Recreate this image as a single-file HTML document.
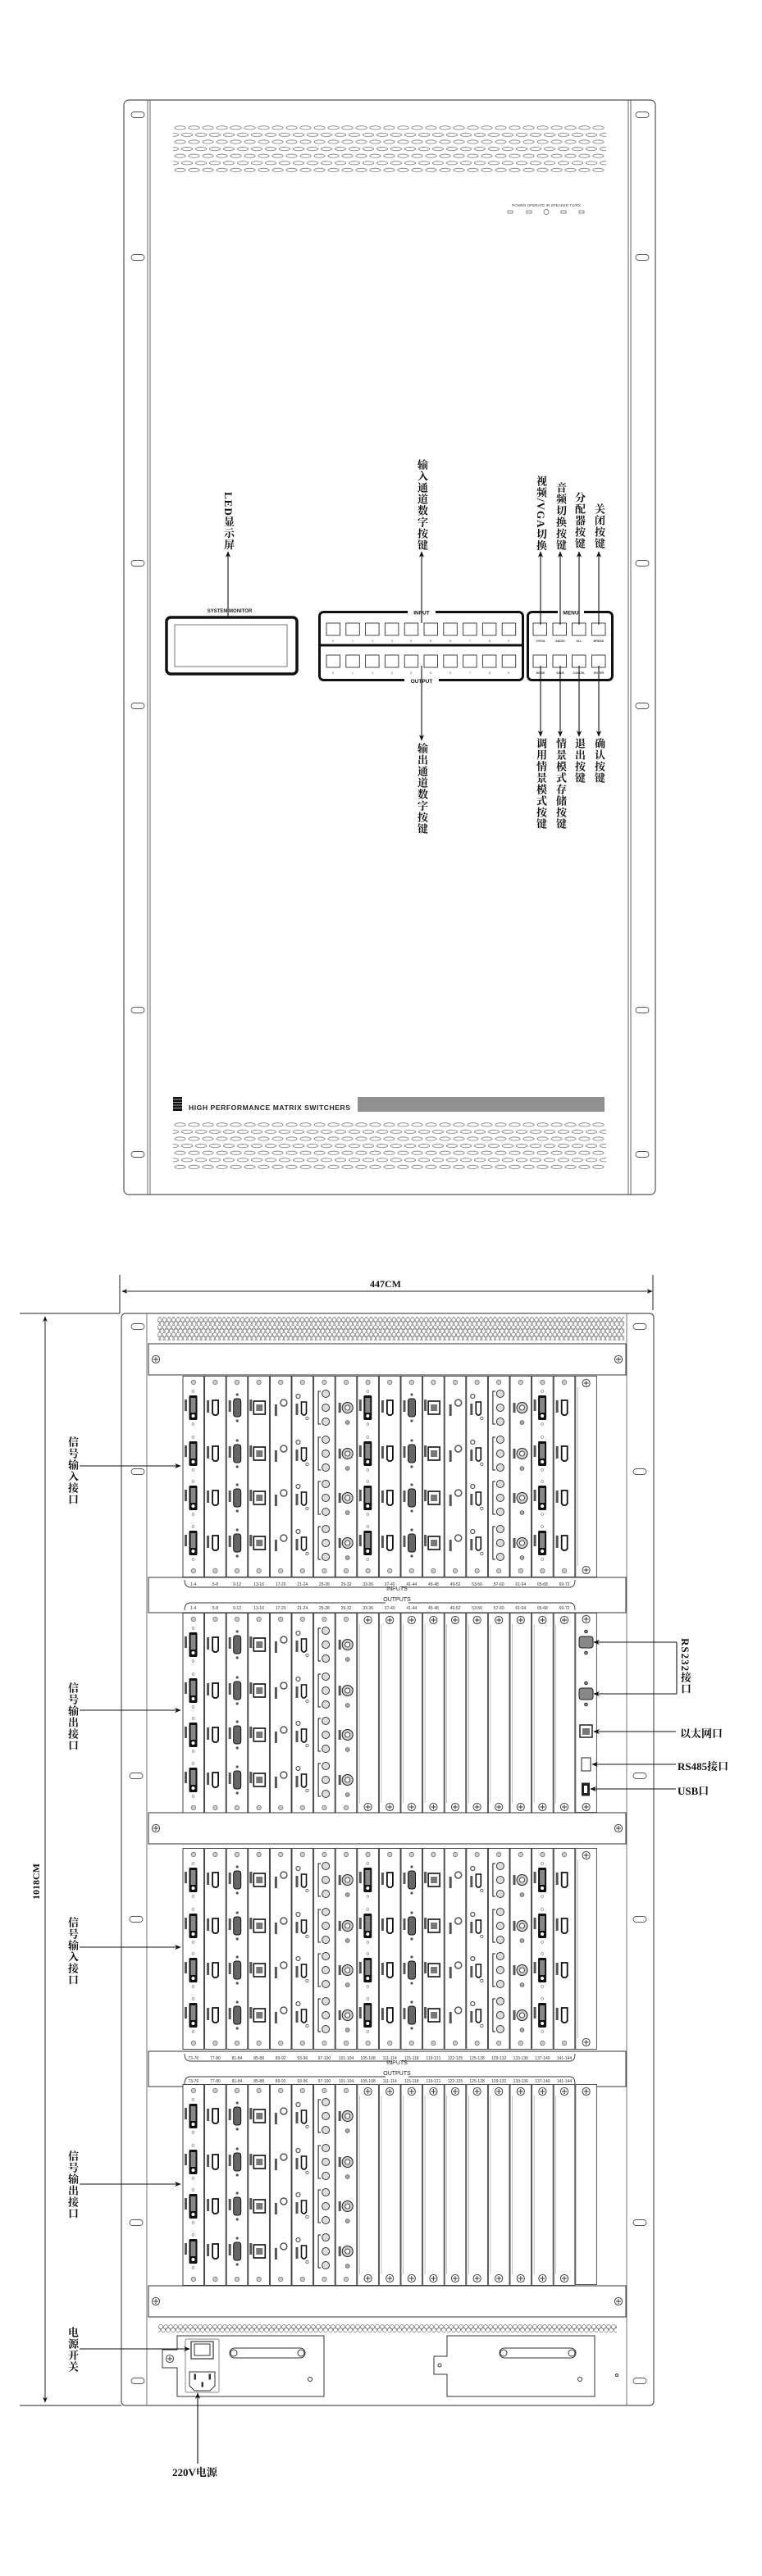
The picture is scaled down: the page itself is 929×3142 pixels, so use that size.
<!DOCTYPE html>
<html><head><meta charset="utf-8"><style>
html,body{margin:0;padding:0;background:#fff}
#w{position:relative;width:929px;height:3142px;overflow:hidden;background:#fff}
svg{position:absolute;left:0;top:0}
.v{position:absolute;writing-mode:vertical-rl;text-orientation:mixed;font-family:"Liberation Serif","Noto Serif CJK SC",serif;font-weight:bold;font-size:13px;line-height:14px;letter-spacing:1px;color:#111;width:14px;white-space:nowrap}
.h{position:absolute;font-family:"Liberation Serif","Noto Serif CJK SC",serif;font-weight:bold;font-size:13px;color:#111;white-space:nowrap}
</style></head><body><div id="w">
<svg width="929" height="3142" viewBox="0 0 929 3142" xmlns="http://www.w3.org/2000/svg">
<defs>
<marker id="ah" viewBox="0 0 10 10" refX="9" refY="5" markerWidth="7" markerHeight="7" orient="auto-start-reverse"><path d="M0,1 L10,5 L0,9 L3,5 Z" fill="#111"/></marker>
<pattern id="vt" patternUnits="userSpaceOnUse" x="212" y="153" width="17" height="17.2"><ellipse cx="7.5" cy="2.8" rx="6.6" ry="2.1" fill="none" stroke="#777" stroke-width="0.8"/><ellipse cx="16" cy="11.4" rx="6.6" ry="2.1" fill="none" stroke="#777" stroke-width="0.8"/><ellipse cx="-1" cy="11.4" rx="6.6" ry="2.1" fill="none" stroke="#777" stroke-width="0.8"/></pattern>
<pattern id="vb" patternUnits="userSpaceOnUse" x="212" y="1369" width="17" height="17.2"><ellipse cx="7.5" cy="2.8" rx="6.6" ry="2.1" fill="none" stroke="#777" stroke-width="0.8"/><ellipse cx="16" cy="11.4" rx="6.6" ry="2.1" fill="none" stroke="#777" stroke-width="0.8"/><ellipse cx="-1" cy="11.4" rx="6.6" ry="2.1" fill="none" stroke="#777" stroke-width="0.8"/></pattern>
<pattern id="rc" patternUnits="userSpaceOnUse" x="192" y="1607" width="5.6" height="9"><circle cx="2.8" cy="2.8" r="2.4" fill="none" stroke="#777" stroke-width="0.7"/><circle cx="0" cy="7.3" r="2.4" fill="none" stroke="#777" stroke-width="0.7"/><circle cx="5.6" cy="7.3" r="2.4" fill="none" stroke="#777" stroke-width="0.7"/></pattern>
<pattern id="pc" patternUnits="userSpaceOnUse" x="193" y="2835" width="6" height="12"><circle cx="3" cy="3" r="2.5" fill="none" stroke="#777" stroke-width="0.7"/><circle cx="0" cy="7" r="2.5" fill="none" stroke="#777" stroke-width="0.7"/><circle cx="6" cy="7" r="2.5" fill="none" stroke="#777" stroke-width="0.7"/></pattern>

<g id="cb"><rect x="0.5" y="0.5" width="25.6" height="245" fill="#fff" stroke="#333" stroke-width="0.9"/><circle cx="13.3" cy="8" r="2.7" fill="#ccc" stroke="#777" stroke-width="0.8"/><circle cx="13.3" cy="238" r="2.7" fill="#ccc" stroke="#777" stroke-width="0.8"/></g>
<g id="sc"><circle r="4.6" fill="#fff" stroke="#333" stroke-width="0.9"/><path d="M-3,0H3M0,-3V3" stroke="#333" stroke-width="0.9"/></g>
<g id="blank"><rect x="0.5" y="0.5" width="25.6" height="245" fill="#fff" stroke="#444" stroke-width="0.9"/><line x1="3" y1="14" x2="3" y2="232" stroke="#999" stroke-width="0.6"/><use href="#sc" x="13.3" y="9"/><use href="#sc" x="13.3" y="237"/></g>

<g id="p_dvi"><rect x="8" y="-15" width="10" height="30" rx="1.5" fill="#111"/><rect x="10" y="-12" width="6" height="18" fill="#888"/><circle cx="13" cy="10" r="2" fill="#fff"/><circle cx="13" cy="-20" r="1.4" fill="none" stroke="#777" stroke-width=".6"/><circle cx="13" cy="20" r="1.4" fill="none" stroke="#777" stroke-width=".6"/><rect x="2.5" y="-10" width="3" height="14" fill="#555"/></g>
<g id="p_hdmi"><path d="M10,-9 H17 V7 L15,9 H12 L10,7 Z" fill="none" stroke="#111" stroke-width="1.8"/><rect x="3" y="-9" width="3" height="15" fill="#555"/></g>
<g id="p_vga"><rect x="9" y="-11" width="9" height="22" rx="3" fill="#666" stroke="#111" stroke-width="1"/><circle cx="13.5" cy="-16" r="1.6" fill="#555"/><circle cx="13.5" cy="16" r="1.6" fill="#555"/><rect x="3" y="-9" width="3" height="14" fill="#555"/></g>
<g id="p_cat"><rect x="7" y="-8" width="14" height="16" fill="none" stroke="#111" stroke-width="1.6"/><rect x="10" y="-4" width="8" height="8" fill="#777"/><rect x="2" y="-10" width="3" height="14" fill="#555"/></g>
<g id="p_opt"><circle cx="17" cy="-6" r="4" fill="none" stroke="#555" stroke-width="1.5"/><rect x="6" y="-4" width="3" height="14" fill="#555"/></g>
<g id="p_ah"><circle cx="8" cy="-14" r="2.5" fill="none" stroke="#555" stroke-width="1.2"/><path d="M12,-7 H18 V7 L16,9 H14 L12,7 Z" fill="none" stroke="#111" stroke-width="1.6"/><circle cx="19" cy="13" r="1.7" fill="none" stroke="#555" stroke-width=".8"/><rect x="5" y="-5" width="3" height="14" fill="#555"/></g>
<g id="p_bnc"><circle cx="15" cy="-17" r="4.5" fill="#ddd" stroke="#333" stroke-width="1"/><circle cx="15" cy="0" r="4.5" fill="#ddd" stroke="#333" stroke-width="1"/><circle cx="15" cy="17" r="4.5" fill="#ddd" stroke="#333" stroke-width="1"/><path d="M9,-20 H6 V20 H9" fill="none" stroke="#111" stroke-width="1"/></g>
<g id="p_sdi"><circle cx="15" cy="0" r="6.5" fill="#ccc" stroke="#222" stroke-width="1"/><circle cx="15" cy="0" r="3" fill="#fff" stroke="#222" stroke-width=".8"/><circle cx="15" cy="18" r="2.4" fill="#aaa" stroke="#555" stroke-width=".8"/><rect x="4" y="-6" width="3" height="12" fill="#555"/></g>

<g id="c_dvi"><use href="#cb"/><use href="#p_dvi" y="39"/><use href="#p_dvi" y="95"/><use href="#p_dvi" y="149"/><use href="#p_dvi" y="204"/></g>
<g id="c_hdmi"><use href="#cb"/><use href="#p_hdmi" y="39"/><use href="#p_hdmi" y="95"/><use href="#p_hdmi" y="149"/><use href="#p_hdmi" y="204"/></g>
<g id="c_vga"><use href="#cb"/><use href="#p_vga" y="39"/><use href="#p_vga" y="95"/><use href="#p_vga" y="149"/><use href="#p_vga" y="204"/></g>
<g id="c_cat"><use href="#cb"/><use href="#p_cat" y="39"/><use href="#p_cat" y="95"/><use href="#p_cat" y="149"/><use href="#p_cat" y="204"/></g>
<g id="c_opt"><use href="#cb"/><use href="#p_opt" y="39"/><use href="#p_opt" y="95"/><use href="#p_opt" y="149"/><use href="#p_opt" y="204"/></g>
<g id="c_ah"><use href="#cb"/><use href="#p_ah" y="39"/><use href="#p_ah" y="95"/><use href="#p_ah" y="149"/><use href="#p_ah" y="204"/></g>
<g id="c_bnc"><use href="#cb"/><use href="#p_bnc" y="39"/><use href="#p_bnc" y="95"/><use href="#p_bnc" y="149"/><use href="#p_bnc" y="204"/></g>
<g id="c_sdi"><use href="#cb"/><use href="#p_sdi" y="39"/><use href="#p_sdi" y="95"/><use href="#p_sdi" y="149"/><use href="#p_sdi" y="204"/></g>

<g id="inblk">
<use href="#c_dvi" x="222.5"/><use href="#c_hdmi" x="249.1"/><use href="#c_vga" x="275.7"/><use href="#c_cat" x="302.3"/><use href="#c_opt" x="328.9"/><use href="#c_ah" x="355.5"/><use href="#c_bnc" x="382.1"/><use href="#c_sdi" x="408.7"/><use href="#c_dvi" x="435.3"/><use href="#c_hdmi" x="461.9"/><use href="#c_vga" x="488.5"/><use href="#c_cat" x="515.1"/><use href="#c_opt" x="541.7"/><use href="#c_ah" x="568.3"/><use href="#c_bnc" x="594.9"/><use href="#c_sdi" x="621.5"/><use href="#c_dvi" x="648.1"/><use href="#c_hdmi" x="674.7"/><use href="#blank" x="701.3"/>
</g>
<g id="outblk">
<use href="#c_dvi" x="222.5"/><use href="#c_hdmi" x="249.1"/><use href="#c_vga" x="275.7"/><use href="#c_cat" x="302.3"/><use href="#c_opt" x="328.9"/><use href="#c_ah" x="355.5"/><use href="#c_bnc" x="382.1"/><use href="#c_sdi" x="408.7"/><use href="#blank" x="435.3"/><use href="#blank" x="461.9"/><use href="#blank" x="488.5"/><use href="#blank" x="515.1"/><use href="#blank" x="541.7"/><use href="#blank" x="568.3"/><use href="#blank" x="594.9"/><use href="#blank" x="621.5"/><use href="#blank" x="648.1"/><use href="#blank" x="674.7"/>
</g>
<g id="hbar"><rect x="181" y="0" width="582" height="38" fill="#fff" stroke="#333" stroke-width="1"/><use href="#sc" x="190" y="19"/><use href="#sc" x="754" y="19"/></g>
<g id="iobar"><rect x="181" y="0" width="582" height="43" fill="#fff" stroke="#333" stroke-width="1"/><path d="M225,3 Q225,12 232,12 H478 M490,12 H695 Q701,12 701,3" fill="none" stroke="#333" stroke-width="0.9"/><path d="M225,40 Q225,31 232,31 H470 M498,31 H695 Q701,31 701,40" fill="none" stroke="#333" stroke-width="0.9"/></g>
</defs>

<!-- ================= FRONT PANEL ================= -->
<rect x="151" y="122" width="648" height="1335" rx="6" fill="#fff" stroke="#555" stroke-width="1.2"/>
<path d="M180,122V1457M183,122V1457M766,122V1457M769,122V1457" stroke="#555" stroke-width="0.9"/>
<g fill="#fff" stroke="#555" stroke-width="0.9">
<rect x="160" y="136.5" width="16" height="7" rx="3.5"/><rect x="160" y="310.5" width="16" height="7" rx="3.5"/><rect x="160" y="683.5" width="16" height="7" rx="3.5"/><rect x="160" y="857.5" width="16" height="7" rx="3.5"/><rect x="160" y="1228.5" width="16" height="7" rx="3.5"/><rect x="160" y="1404.5" width="16" height="7" rx="3.5"/>
<rect x="775" y="136.5" width="16" height="7" rx="3.5"/><rect x="775" y="310.5" width="16" height="7" rx="3.5"/><rect x="775" y="683.5" width="16" height="7" rx="3.5"/><rect x="775" y="857.5" width="16" height="7" rx="3.5"/><rect x="775" y="1228.5" width="16" height="7" rx="3.5"/><rect x="775" y="1404.5" width="16" height="7" rx="3.5"/>
</g>
<rect x="211" y="153" width="528" height="57" fill="url(#vt)"/>
<rect x="211" y="1369" width="528" height="57" fill="url(#vb)"/>
<text x="666" y="252" font-family="Liberation Sans" font-size="4.6" fill="#444" text-anchor="middle">POWER OPERATE  IR  SPEAKER TX/RX</text>
<g fill="none" stroke="#555" stroke-width="0.7"><rect x="619" y="257" width="6" height="3"/><rect x="642" y="257" width="6" height="3"/><circle cx="666" cy="258.5" r="3"/><rect x="684" y="257" width="6" height="3"/><rect x="706" y="257" width="6" height="3"/></g>

<!-- LCD -->
<rect x="203" y="753" width="159" height="69" rx="5" fill="#fff" stroke="#111" stroke-width="3.5"/>
<rect x="213" y="762" width="137" height="51" fill="#fff" stroke="#777" stroke-width="1"/>
<text x="280" y="747" font-family="Liberation Sans" font-weight="bold" font-size="6" fill="#222" text-anchor="middle">SYSTEM MONITOR</text>
<!-- Input/Output box -->
<rect x="389.5" y="746.5" width="248" height="83" rx="5" fill="#fff" stroke="#111" stroke-width="3"/>
<line x1="389" y1="787" x2="638" y2="787" stroke="#111" stroke-width="3"/>
<rect x="497" y="742" width="34" height="8" fill="#fff"/>
<text x="514" y="749.5" font-family="Liberation Sans" font-weight="bold" font-size="6.5" fill="#111" text-anchor="middle">INPUT</text>
<rect x="493" y="826" width="42" height="8" fill="#fff"/>
<text x="514" y="833" font-family="Liberation Sans" font-weight="bold" font-size="6.5" fill="#111" text-anchor="middle">OUTPUT</text>
<g fill="#fff" stroke="#333" stroke-width="0.9">
<rect x="398" y="760" width="16.5" height="15"/><rect x="421.8" y="760" width="16.5" height="15"/><rect x="445.6" y="760" width="16.5" height="15"/><rect x="469.4" y="760" width="16.5" height="15"/><rect x="493.2" y="760" width="16.5" height="15"/><rect x="517" y="760" width="16.5" height="15"/><rect x="540.8" y="760" width="16.5" height="15"/><rect x="564.6" y="760" width="16.5" height="15"/><rect x="588.4" y="760" width="16.5" height="15"/><rect x="612.2" y="760" width="16.5" height="15"/>
<rect x="398" y="799" width="16.5" height="15"/><rect x="421.8" y="799" width="16.5" height="15"/><rect x="445.6" y="799" width="16.5" height="15"/><rect x="469.4" y="799" width="16.5" height="15"/><rect x="493.2" y="799" width="16.5" height="15"/><rect x="517" y="799" width="16.5" height="15"/><rect x="540.8" y="799" width="16.5" height="15"/><rect x="564.6" y="799" width="16.5" height="15"/><rect x="588.4" y="799" width="16.5" height="15"/><rect x="612.2" y="799" width="16.5" height="15"/>
</g>
<g font-family="Liberation Sans" font-size="3.6" fill="#444" text-anchor="middle">
<text x="406" y="783">0</text><text x="430" y="783">1</text><text x="454" y="783">2</text><text x="478" y="783">3</text><text x="501" y="783">4</text><text x="525" y="783">5</text><text x="549" y="783">6</text><text x="573" y="783">7</text><text x="597" y="783">8</text><text x="620" y="783">9</text>
<text x="406" y="822">0</text><text x="430" y="822">1</text><text x="454" y="822">2</text><text x="478" y="822">3</text><text x="501" y="822">4</text><text x="525" y="822">5</text><text x="549" y="822">6</text><text x="573" y="822">7</text><text x="597" y="822">8</text><text x="620" y="822">9</text>
</g>
<!-- Menu box -->
<rect x="643.5" y="746.5" width="103" height="83" rx="5" fill="#fff" stroke="#111" stroke-width="3"/>
<rect x="680" y="742" width="32" height="8" fill="#fff"/>
<text x="696" y="749.5" font-family="Liberation Sans" font-weight="bold" font-size="6.5" fill="#111" text-anchor="middle">MENU</text>
<g fill="#fff" stroke="#333" stroke-width="0.9">
<rect x="650" y="760" width="16.5" height="15"/><rect x="674" y="760" width="16.5" height="15"/><rect x="697.5" y="760" width="16.5" height="15"/><rect x="721.5" y="760" width="16.5" height="15"/>
<rect x="650" y="799" width="16.5" height="15"/><rect x="674" y="799" width="16.5" height="15"/><rect x="697.5" y="799" width="16.5" height="15"/><rect x="721.5" y="799" width="16.5" height="15"/>
</g>
<g font-family="Liberation Sans" font-weight="bold" font-size="3.6" fill="#444" text-anchor="middle">
<text x="659" y="783">V/VGA</text><text x="683" y="783">AUDIO</text><text x="706" y="783">ALL</text><text x="730" y="783">BREAK</text>
<text x="659" y="822">MODE</text><text x="683" y="822">SAVE</text><text x="706" y="822">CANCEL</text><text x="730" y="822">ENTER</text>
</g>
<!-- front arrows -->
<g stroke="#111" stroke-width="1.1" fill="none" marker-end="url(#ah)">
<line x1="278" y1="752" x2="278" y2="673"/>
<line x1="514" y1="760" x2="514" y2="673"/>
<line x1="659" y1="762" x2="659" y2="673"/><line x1="683" y1="762" x2="683" y2="673"/><line x1="706" y1="762" x2="706" y2="673"/><line x1="730" y1="762" x2="730" y2="673"/>
<line x1="659" y1="812" x2="659" y2="898"/><line x1="683" y1="812" x2="683" y2="898"/><line x1="706" y1="812" x2="706" y2="898"/><line x1="730" y1="812" x2="730" y2="898"/>
<line x1="514" y1="812" x2="514" y2="903"/>
</g>
<!-- High performance strip -->
<rect x="211" y="1338" width="11" height="17" fill="#111"/>
<g stroke="#fff" stroke-width="0.6"><line x1="211" y1="1341" x2="222" y2="1341"/><line x1="211" y1="1344.5" x2="222" y2="1344.5"/><line x1="211" y1="1348" x2="222" y2="1348"/><line x1="211" y1="1351.5" x2="222" y2="1351.5"/></g>
<text x="230" y="1354" font-family="Liberation Sans" font-weight="bold" font-size="8.6" fill="#222" textLength="197">HIGH PERFORMANCE MATRIX SWITCHERS</text>
<g stroke="#222" stroke-width="1"><line x1="436" y1="1339" x2="737" y2="1339"/><line x1="436" y1="1341" x2="737" y2="1341"/><line x1="436" y1="1343" x2="737" y2="1343"/><line x1="436" y1="1345" x2="737" y2="1345"/><line x1="436" y1="1347" x2="737" y2="1347"/><line x1="436" y1="1349" x2="737" y2="1349"/><line x1="436" y1="1351" x2="737" y2="1351"/><line x1="436" y1="1353" x2="737" y2="1353"/><line x1="436" y1="1355" x2="737" y2="1355"/></g>

<!-- ================= REAR PANEL ================= -->
<g stroke="#222" stroke-width="1" fill="none">
<line x1="146" y1="1555" x2="146" y2="1602"/><line x1="796" y1="1555" x2="796" y2="1598"/>
<line x1="24" y1="1602" x2="146" y2="1602"/><line x1="24" y1="2934" x2="148" y2="2934"/>
</g>
<g stroke="#222" stroke-width="1" fill="none" marker-start="url(#ah)" marker-end="url(#ah)">
<line x1="149" y1="1575" x2="795" y2="1575"/>
<line x1="55" y1="1606" x2="55" y2="2930"/>
</g>
<text x="470" y="1570" font-family="Liberation Serif" font-weight="bold" font-size="12" fill="#111" text-anchor="middle">447CM</text>
<text transform="translate(48,2295) rotate(-90)" font-family="Liberation Serif" font-weight="bold" font-size="12" fill="#111" text-anchor="middle">1018CM</text>

<rect x="148" y="1602" width="649" height="1332" rx="5" fill="#fff" stroke="#555" stroke-width="1.2"/>
<path d="M179,1602V2934M764,1602V2934" stroke="#666" stroke-width="0.9"/>
<g fill="#fff" stroke="#555" stroke-width="0.9">
<rect x="160" y="1614.5" width="16" height="7" rx="3.5"/><rect x="160" y="1791.5" width="16" height="7" rx="3.5"/><rect x="158" y="2162.5" width="16" height="7" rx="3.5"/><rect x="158" y="2337.5" width="16" height="7" rx="3.5"/><rect x="158" y="2707.5" width="16" height="7" rx="3.5"/><rect x="160" y="2900.5" width="16" height="7" rx="3.5"/>
<rect x="772" y="1614.5" width="16" height="7" rx="3.5"/><rect x="772" y="1791.5" width="16" height="7" rx="3.5"/><rect x="772" y="2162.5" width="16" height="7" rx="3.5"/><rect x="772" y="2337.5" width="16" height="7" rx="3.5"/><rect x="772" y="2707.5" width="16" height="7" rx="3.5"/><rect x="772" y="2900.5" width="16" height="7" rx="3.5"/>
</g>
<rect x="192" y="1606" width="569" height="29" fill="url(#rc)"/>

<use href="#hbar" y="1639"/>
<use href="#inblk" y="1678"/>
<use href="#iobar" y="1924"/>
<use href="#outblk" y="1967"/>
<use href="#hbar" y="2211"/>
<use href="#inblk" y="2254"/>
<use href="#iobar" y="2502"/>
<use href="#outblk" y="2542"/>
<use href="#hbar" y="2788"/>

<!-- control card -->
<rect x="701.8" y="1967.5" width="25.6" height="243" fill="#fff" stroke="#444" stroke-width="0.9"/>
<use href="#sc" x="714.6" y="1975"/><use href="#sc" x="714.6" y="2204"/>
<g stroke="#222" stroke-width="1">
<rect x="706" y="1996" width="17" height="14" rx="3" fill="#888"/><circle cx="714.5" cy="1990" r="1.8" fill="#999"/><circle cx="714.5" cy="2016" r="1.8" fill="#999"/>
<rect x="706" y="2059" width="17" height="14" rx="3" fill="#888"/><circle cx="714.5" cy="2053" r="1.8" fill="#999"/><circle cx="714.5" cy="2079" r="1.8" fill="#999"/>
<rect x="707" y="2104" width="15" height="15" fill="#fff" stroke-width="1.5"/><rect x="710" y="2108" width="9" height="8" fill="#777" stroke="none"/>
<rect x="709" y="2144" width="11" height="16" fill="#fff"/>
<rect x="709.5" y="2175" width="9" height="15" fill="#222"/><rect x="712" y="2178" width="4" height="9" fill="#fff" stroke="none"/>
</g>
<!-- blank control slot in outblk 2 -->
<rect x="701.8" y="2542.5" width="25.6" height="244" fill="#fff" stroke="#444" stroke-width="0.9"/>
<use href="#sc" x="714.6" y="2551"/>

<!-- range labels -->
<g font-family="Liberation Sans" font-size="5" fill="#333" text-anchor="middle">
<text x="235.8" y="1934">1-4</text><text x="262.4" y="1934">5-8</text><text x="289" y="1934">9-12</text><text x="315.6" y="1934">13-16</text><text x="342.2" y="1934">17-20</text><text x="368.8" y="1934">21-24</text><text x="395.4" y="1934">25-28</text><text x="422" y="1934">29-32</text><text x="448.6" y="1934">33-36</text><text x="475.2" y="1934">37-40</text><text x="501.8" y="1934">41-44</text><text x="528.4" y="1934">45-48</text><text x="555" y="1934">49-52</text><text x="581.6" y="1934">53-56</text><text x="608.2" y="1934">57-60</text><text x="634.8" y="1934">61-64</text><text x="661.4" y="1934">65-68</text><text x="688" y="1934">69-72</text>
<text x="235.8" y="1963">1-4</text><text x="262.4" y="1963">5-8</text><text x="289" y="1963">9-12</text><text x="315.6" y="1963">13-16</text><text x="342.2" y="1963">17-20</text><text x="368.8" y="1963">21-24</text><text x="395.4" y="1963">25-28</text><text x="422" y="1963">29-32</text><text x="448.6" y="1963">33-36</text><text x="475.2" y="1963">37-40</text><text x="501.8" y="1963">41-44</text><text x="528.4" y="1963">45-48</text><text x="555" y="1963">49-52</text><text x="581.6" y="1963">53-56</text><text x="608.2" y="1963">57-60</text><text x="634.8" y="1963">61-64</text><text x="661.4" y="1963">65-68</text><text x="688" y="1963">69-72</text>
<text x="235.8" y="2512">73-76</text><text x="262.4" y="2512">77-80</text><text x="289" y="2512">81-84</text><text x="315.6" y="2512">85-88</text><text x="342.2" y="2512">89-92</text><text x="368.8" y="2512">93-96</text><text x="395.4" y="2512">97-100</text><text x="422" y="2512">101-104</text><text x="448.6" y="2512">105-108</text><text x="475.2" y="2512">111-114</text><text x="501.8" y="2512">115-118</text><text x="528.4" y="2512">119-121</text><text x="555" y="2512">122-125</text><text x="581.6" y="2512">125-128</text><text x="608.2" y="2512">129-132</text><text x="634.8" y="2512">133-136</text><text x="661.4" y="2512">137-140</text><text x="688" y="2512">141-144</text>
<text x="235.8" y="2540">73-76</text><text x="262.4" y="2540">77-80</text><text x="289" y="2540">81-84</text><text x="315.6" y="2540">85-88</text><text x="342.2" y="2540">89-92</text><text x="368.8" y="2540">93-96</text><text x="395.4" y="2540">97-100</text><text x="422" y="2540">101-104</text><text x="448.6" y="2540">105-108</text><text x="475.2" y="2540">111-114</text><text x="501.8" y="2540">115-118</text><text x="528.4" y="2540">119-121</text><text x="555" y="2540">122-125</text><text x="581.6" y="2540">125-128</text><text x="608.2" y="2540">129-132</text><text x="634.8" y="2540">133-136</text><text x="661.4" y="2540">137-140</text><text x="688" y="2540">141-144</text>
</g>
<g font-family="Liberation Sans" font-size="7" fill="#222" text-anchor="middle">
<text x="484" y="1940">INPUTS</text><text x="484" y="1953">OUTPUTS</text>
<text x="484" y="2518">INPUTS</text><text x="484" y="2531">OUTPUTS</text>
</g>

<!-- power section -->
<rect x="193" y="2834" width="559" height="12" fill="url(#pc)"/>
<g stroke="#333" stroke-width="1" fill="#fff">
<path d="M216,2849 H395 V2923 H216 V2888 H198 V2866 H216 Z"/>
<rect x="226" y="2853" width="41" height="65" rx="2" stroke="#888"/>
<rect x="233" y="2856" width="27" height="21" stroke-width="1.2"/><rect x="237" y="2859" width="19" height="14" fill="#fff" stroke-width="1"/>
<path d="M231,2893 H262 V2910 L256,2916 H237 L231,2910 Z"/>
<rect x="237" y="2896" width="1.5" height="6" fill="#333"/><rect x="255" y="2896" width="1.5" height="6" fill="#333"/><rect x="246" y="2906" width="1.5" height="5" fill="#333"/>
<rect x="280" y="2864" width="92" height="12" rx="6"/><circle cx="285" cy="2870" r="4"/><circle cx="367" cy="2870" r="4"/>
<circle cx="378" cy="2902" r="2.5"/>
<path d="M545,2849 H725 V2923 H545 V2896 H529 V2874 H545 Z"/>
<rect x="609" y="2864" width="93" height="12" rx="6"/><circle cx="614" cy="2870" r="4"/><circle cx="697" cy="2870" r="4"/>
<circle cx="707" cy="2902" r="2.5"/><circle cx="536" cy="2885" r="2" />
<circle cx="752" cy="2897" r="1.5"/>
</g>
<use href="#sc" x="207" y="2877"/>

<!-- rear arrows -->
<g stroke="#111" stroke-width="1.1" fill="none" marker-end="url(#ah)">
<line x1="97" y1="1788" x2="220" y2="1788"/>
<line x1="97" y1="2086" x2="220" y2="2086"/>
<line x1="97" y1="2375" x2="220" y2="2375"/>
<line x1="97" y1="2664" x2="220" y2="2664"/>
<line x1="97" y1="2865" x2="231" y2="2865"/>
<line x1="241" y1="3005" x2="241" y2="2919"/>
<line x1="825" y1="2003" x2="724" y2="2003"/>
<line x1="825" y1="2066" x2="724" y2="2066"/>
<line x1="824" y1="2112" x2="724" y2="2112"/>
<line x1="824" y1="2152" x2="722" y2="2152"/>
<line x1="824" y1="2182" x2="720" y2="2182"/>
</g>
<line x1="825" y1="2003" x2="825" y2="2066" stroke="#111" stroke-width="1.1"/>
</svg>

<!-- front vertical labels -->
<div class="v" style="left:271px;bottom:2470px">LED显示屏</div>
<div class="v" style="left:507px;bottom:2470px">输入通道数字按键</div>
<div class="v" style="left:652px;bottom:2470px">视频/VGA切换</div>
<div class="v" style="left:676px;bottom:2470px">音频切换按键</div>
<div class="v" style="left:699px;bottom:2472px">分配器按键</div>
<div class="v" style="left:723px;bottom:2472px">关闭按键</div>
<div class="v" style="left:652px;top:900px">调用情景模式按键</div>
<div class="v" style="left:676px;top:900px">情景模式存储按键</div>
<div class="v" style="left:699px;top:900px">退出按键</div>
<div class="v" style="left:723px;top:900px">确认按键</div>
<div class="v" style="left:507px;top:906px">输出通道数字按键</div>

<!-- rear labels -->
<div class="v" style="left:81px;top:1752px">信号输入接口</div>
<div class="v" style="left:81px;top:2052px">信号输出接口</div>
<div class="v" style="left:81px;top:2338px">信号输入接口</div>
<div class="v" style="left:81px;top:2623px">信号输出接口</div>
<div class="v" style="left:81px;top:2838px">电源开关</div>
<div class="v" style="left:828px;top:1998px">RS232接口</div>
<div class="h" style="left:829px;top:2104px">以太网口</div>
<div class="h" style="left:826px;top:2144px">RS485接口</div>
<div class="h" style="left:826px;top:2174px">USB口</div>
<div class="h" style="left:210px;top:3005px">220V电源</div>
</div></body></html>
